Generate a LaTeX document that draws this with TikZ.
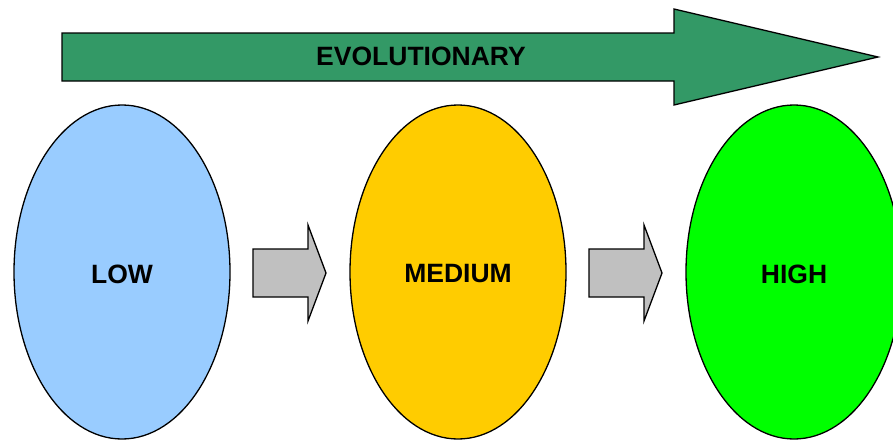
\documentclass[tikz,border=0pt]{standalone}
\usepackage{fontspec}
\setmainfont{Liberation Sans}
\usetikzlibrary{shapes.geometric}
\definecolor{evgreen}{HTML}{339966}
\definecolor{lowblue}{HTML}{99CCFF}
\definecolor{medyel}{HTML}{FFCC00}
\definecolor{higreen}{HTML}{00FF00}
\definecolor{arrgray}{HTML}{C0C0C0}
\begin{document}
\begin{tikzpicture}[x=1pt,y=-1pt,
  lvl/.style={ellipse,draw=black,line width=1.3pt,minimum width=216pt,minimum height=334pt,inner sep=0pt},
  blockarrow/.style={draw=black,line width=1.3pt,line join=miter},
  lbl/.style={font=\fontsize{26.5}{30}\selectfont\bfseries,inner sep=0pt}]
\useasboundingbox (0,0) rectangle (893,439);
\clip (0,0) rectangle (893,439);
% big evolutionary arrow
\draw[blockarrow,fill=evgreen] (62,33) -- (674,33) -- (674,9) -- (878,57) -- (674,105) -- (674,81) -- (62,81) -- cycle;
\node[lbl] (evo) at (421,56) {EVOLUTIONARY};
% levels
\node[lvl,fill=lowblue] (low) at (122,272) {};
\node[lvl,fill=medyel] (med) at (458,272) {};
\node[lvl,fill=higreen] (high) at (794,272) {};
\node[lbl] (lowt) at (122,274) {LOW};
\node[lbl] (medt) at (458,274) {MEDIUM};
\node[lbl] (hight) at (794,274) {HIGH};
% gray arrows
\draw[blockarrow,fill=arrgray] (253,249) -- (308,249) -- (308,225) -- (326,273) -- (308,321) -- (308,297) -- (253,297) -- cycle;
\draw[blockarrow,fill=arrgray] (589,249) -- (644,249) -- (644,225) -- (662,273) -- (644,321) -- (644,297) -- (589,297) -- cycle;
\end{tikzpicture}
\end{document}
